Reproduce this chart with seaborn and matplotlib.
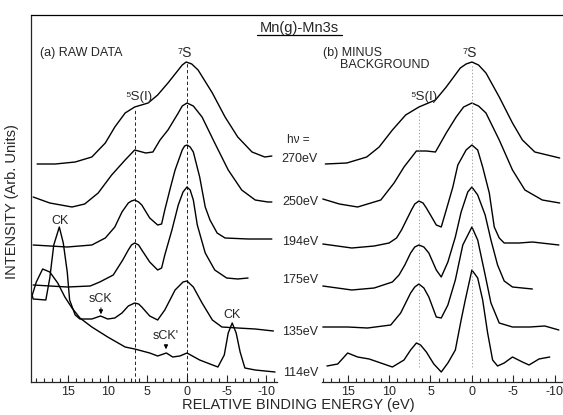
import pandas as pd
import numpy as np
import seaborn as sns
import matplotlib.pyplot as plt
from matplotlib.lines import Line2D
from matplotlib.ticker import MultipleLocator

# Mn(g) - Mn3s spectra (energy in eV, intensity in arb. units)
photon_labels = ["270 eV", "250 eV", "194 eV", "175 eV", "135 eV", "114 eV"]

raw_270_ev = [18.9, 16.6, 14.1, 12.0, 10.3, 9.1, 7.8, 6.6, 4.9, 3.7, 2.4, 1.1, 0.6, 0.1, -0.6, -1.4, -3.2, -4.8, -6.4, -8.2, -9.8, -10.7]
raw_270_int = [218, 218, 220, 225, 239, 255, 269, 275, 279, 287, 299, 312, 317, 320, 318, 312, 289, 265, 245, 230, 225, 226]

raw_250_ev = [19.4, 17.3, 14.5, 12.9, 11.2, 9.5, 7.8, 6.6, 5.2, 4.3, 3.4, 2.4, 1.1, 0.6, 0.0, -0.8, -1.9, -3.5, -5.2, -6.9, -8.6, -10.2, -10.7]
raw_250_int = [185, 179, 175, 178, 189, 207, 222, 232, 229, 230, 242, 252, 269, 276, 279, 276, 265, 239, 212, 192, 182, 180, 180]

raw_194_ev = [19.4, 15.1, 12.0, 10.3, 9.1, 8.2, 7.4, 7.0, 6.6, 6.1, 5.7, 4.7, 3.7, 3.2, 2.8, 2.1, 1.5, 0.6, 0.3, 0.0,
              -0.4, -0.8, -1.6, -2.3, -2.9, -3.8, -4.8, -7.7, -10.7]
raw_194_int = [137, 135, 137, 144, 155, 170, 179, 181, 182, 180, 177, 164, 157, 158, 172, 194, 212, 232, 236, 237,
               235, 230, 205, 175, 162, 149, 144, 143, 143]

raw_175_ev = [19.4, 15.1, 12.2, 11.0, 9.3, 8.1, 7.4, 7.0, 6.6, 6.1, 5.7, 4.7, 3.7, 3.2, 2.8, 1.9, 1.1, 0.5, 0.0,
              -0.4, -0.8, -1.3, -2.3, -3.5, -5.0, -6.4, -7.7]
raw_175_int = [97, 95, 96, 100, 107, 122, 132, 137, 139, 137, 132, 120, 112, 114, 127, 152, 177, 190, 195,
               192, 182, 157, 129, 112, 104, 103, 104]

raw_135_ev = [19.7, 19.4, 17.8, 17.3, 16.8, 16.1, 15.6, 15.1, 14.8, 14.1, 13.5, 12.0, 10.9, 10.0, 9.1, 8.2,
              7.4, 6.6, 6.1, 5.7, 4.7, 3.7, 2.8, 1.5, 0.5, 0.0, -0.8, -1.9, -3.2, -4.4, -6.4, -8.6, -10.9]
raw_135_int = [92, 83, 82, 104, 137, 155, 139, 110, 82, 67, 63, 63, 66, 63, 64, 69,
               76, 79, 78, 75, 66, 62, 72, 92, 100, 101, 95, 79, 62, 55, 54, 53, 51]

raw_114_ev = [19.7, 19.0, 18.2, 17.3, 16.3, 15.4, 14.5, 13.5, 12.0, 10.0, 7.8, 6.6, 4.7, 3.7, 2.6,
              1.8, 0.9, 0.0, -1.6, -2.9, -3.9, -4.7, -5.2, -5.7, -6.2, -6.7, -7.3, -8.6, -11.1]
raw_114_int = [82, 100, 113, 110, 99, 85, 74, 64, 55, 45, 35, 33, 29, 26, 29,
               25, 26, 29, 22, 18, 15, 27, 49, 59, 49, 30, 14, 12, 10]

bkg_270_ev = [17.7, 15.1, 12.7, 11.2, 9.6, 8.0, 6.4, 4.4, 3.1, 1.4, 0.7, 0.0, -0.8, -1.7, -3.3, -4.9, -6.1, -7.6, -10.6]
bkg_270_int = [218, 219, 225, 235, 252, 267, 275, 282, 295, 314, 318, 320, 317, 309, 285, 259, 242, 230, 224]

bkg_250_ev = [18.0, 16.0, 13.8, 11.0, 9.4, 8.2, 6.7, 5.5, 4.4, 3.1, 1.9, 1.0, 0.0, -0.8, -1.7, -3.3, -4.9, -6.4, -8.5, -10.6]
bkg_250_int = [183, 178, 175, 182, 199, 215, 231, 231, 230, 249, 265, 275, 279, 276, 269, 242, 212, 192, 182, 179]

bkg_194_ev = [18.0, 14.5, 11.8, 10.0, 9.1, 8.5, 7.9, 7.3, 6.9, 6.4, 5.9, 5.5, 5.0, 4.3, 3.7, 3.1,
              2.3, 1.7, 0.7, 0.0, -0.7, -1.3, -2.1, -2.7, -3.3, -3.9, -5.7, -7.3, -10.5]
bkg_194_int = [138, 134, 136, 139, 144, 152, 162, 172, 178, 181, 179, 174, 167, 157, 155, 172,
               195, 217, 232, 237, 232, 215, 189, 155, 144, 139, 139, 140, 137]

bkg_175_ev = [18.0, 14.5, 11.8, 9.6, 8.8, 8.1, 7.4, 6.9, 6.4, 5.8, 5.2, 4.3, 3.7, 2.9, 2.0, 1.3, 0.5, 0.0,
              -0.7, -1.6, -2.3, -3.1, -3.9, -4.9, -6.1, -7.3]
bkg_175_int = [96, 92, 94, 100, 107, 117, 129, 135, 137, 135, 129, 112, 105, 120, 145, 170, 190, 195,
               187, 167, 142, 117, 101, 95, 94, 93]

bkg_135_ev = [18.0, 15.0, 12.6, 9.8, 8.6, 7.4, 6.9, 6.4, 5.8, 5.2, 4.3, 3.7, 2.9, 2.0, 1.1, 0.0,
              -0.7, -1.6, -2.3, -3.3, -4.9, -7.0, -8.8, -10.5]
bkg_135_int = [55, 55, 54, 57, 69, 89, 95, 98, 94, 85, 65, 64, 77, 102, 137, 155,
               142, 107, 79, 59, 55, 55, 56, 52]

bkg_114_ev = [17.5, 16.2, 15.0, 13.8, 12.4, 11.0, 9.6, 8.2, 7.4, 6.7, 6.2, 5.5, 4.6, 3.7, 2.9,
              2.0, 1.3, 0.8, 0.0, -0.7, -1.3, -1.9, -2.5, -3.1, -3.9, -4.9, -6.1, -6.9, -8.1, -9.4]
bkg_114_int = [16, 18, 29, 25, 23, 19, 15, 22, 32, 39, 37, 30, 18, 10, 19,
               32, 62, 82, 112, 104, 82, 49, 22, 16, 19, 25, 20, 17, 23, 25]

tick_values = [15, 10, 5, 0, -5, -10]
tick_labels = ["15", "10", "5", "0", "-5", "-10"]

raw_curves = [(raw_270_ev, raw_270_int), (raw_250_ev, raw_250_int), (raw_194_ev, raw_194_int),
              (raw_175_ev, raw_175_int), (raw_135_ev, raw_135_int), (raw_114_ev, raw_114_int)]
bkg_curves = [(bkg_270_ev, bkg_270_int), (bkg_250_ev, bkg_250_int), (bkg_194_ev, bkg_194_int),
              (bkg_175_ev, bkg_175_int), (bkg_135_ev, bkg_135_int), (bkg_114_ev, bkg_114_int)]

rows = []
for panel, curves in (("raw", raw_curves), ("bkg", bkg_curves)):
    for lab, (ev, inten) in zip(photon_labels, curves):
        for e, i in zip(ev, inten):
            rows.append({"panel": panel, "hv": lab, "energy": e, "intensity": i})
df = pd.DataFrame(rows)

sns.set_style("ticks")
plt.rcParams["font.family"] = ["Liberation Sans", "DejaVu Sans"]
plt.rcParams["axes.unicode_minus"] = False

W, H = 563, 415
fig = plt.figure(figsize=(W / 100, H / 100), dpi=100)
ax_a = fig.add_axes([31 / W, 33 / H, 246 / W, 367 / H])
ax_b = fig.add_axes([322 / W, 33 / H, 241 / W, 367 / H])

for ax, panel, xlim in ((ax_a, "raw", (19.67, -11.35)), (ax_b, "bkg", (18.1, -11.0))):
    sns.lineplot(data=df[df.panel == panel], x="energy", y="intensity", units="hv",
                 estimator=None, sort=False, color="black", lw=1.0, ax=ax, legend=False)
    ax.set_xlim(*xlim)
    ax.set_ylim(0, 367)
    ax.set_xticks(tick_values)
    ax.set_xticklabels(tick_labels, fontsize=9)
    ax.xaxis.set_minor_locator(MultipleLocator(1))
    ax.tick_params(axis="x", which="major", direction="in", length=5, width=0.8, pad=3)
    ax.tick_params(axis="x", which="minor", direction="in", length=3, width=0.8)
    ax.set_yticks([])
    ax.set_xlabel("")
    ax.set_ylabel("")
    for side in ("top", "right"):
        ax.spines[side].set_visible(False)
    ax.spines["bottom"].set_linewidth(0.9)
    ax.patch.set_alpha(0)

ax_b.spines["left"].set_visible(False)
ax_a.spines["left"].set_linewidth(0.9)

# reference lines for the 5S(I) and 7S peaks
ax_a.vlines(6.5, 0, 272, colors="black", linestyles=(0, (4, 3)), lw=0.6)
ax_a.vlines(0.0, 0, 319, colors="black", linestyles=(0, (4, 3)), lw=0.6)
ax_b.vlines(6.4, 15, 270, colors="0.55", linestyles=(0, (1.5, 2.5)), lw=0.6)
ax_b.vlines(0.0, 15, 318, colors="0.55", linestyles=(0, (1.5, 2.5)), lw=0.6)

fam = ["Liberation Sans", "DejaVu Sans"]
ax_a.text(18.5, 329, "(a) RAW DATA", fontsize=9, ha="left", va="center", family=fam)
ax_a.text(0.25, 322, "⁷S", fontsize=10, ha="center", va="bottom", family=fam)
ax_a.text(6.1, 285, "⁵S(I)", fontsize=9.5, ha="center", va="center", family=fam)
ax_a.text(16.0, 161, "CK", fontsize=9, ha="center", va="center", family=fam)
ax_a.text(10.85, 83, "sCK", fontsize=9, ha="center", va="center", family=fam)
ax_a.text(2.65, 46, "sCK'", fontsize=9, ha="center", va="center", family=fam)
ax_a.text(-5.67, 67, "CK", fontsize=9, ha="center", va="center", family=fam)
arrow = dict(arrowstyle="-|>", color="black", lw=0.7, mutation_scale=6)
ax_a.annotate("", xy=(10.85, 65), xytext=(10.85, 77), arrowprops=arrow)
ax_a.annotate("", xy=(2.65, 30), xytext=(2.65, 40), arrowprops=arrow)

ax_b.text(17.98, 329, "(b) MINUS", fontsize=9, ha="left", va="center", family=fam)
ax_b.text(15.95, 317, "BACKGROUND", fontsize=9, ha="left", va="center", family=fam)
ax_b.text(0.24, 322, "⁷S", fontsize=10, ha="center", va="bottom", family=fam)
ax_b.text(5.83, 285, "⁵S(I)", fontsize=9.5, ha="center", va="center", family=fam)

# frame line across the top and the underlined title
fig.add_artist(Line2D([31 / W, 1.0], [1 - 15 / H, 1 - 15 / H], color="black", lw=0.9))
fig.text(299 / W, 1 - 28 / H, "Mn(g)-Mn3s", fontsize=10.5, ha="center", va="center", family=fam)
fig.add_artist(Line2D([257 / W, 342 / W], [1 - 35 / H, 1 - 35 / H], color="black", lw=0.9))

# photon energy labels between the panels
fig.text(298 / W, 1 - 140 / H, "hν =", fontsize=8.5, ha="center", va="center", family=fam)
for lab, ypix in zip(photon_labels, [159, 202, 242, 280, 332, 373]):
    fig.text(318 / W, 1 - ypix / H, lab.replace(" ", ""), fontsize=9, ha="right", va="center", family=fam)

fig.text(12 / W, 1 - 202 / H, "INTENSITY (Arb. Units)", fontsize=10.5, rotation=90,
         ha="center", va="center", family=fam)
fig.text(298 / W, 1 - 405 / H, "RELATIVE BINDING ENERGY (eV)", fontsize=10.5,
         ha="center", va="center", family=fam)

fig.savefig("out.png", dpi=100)
